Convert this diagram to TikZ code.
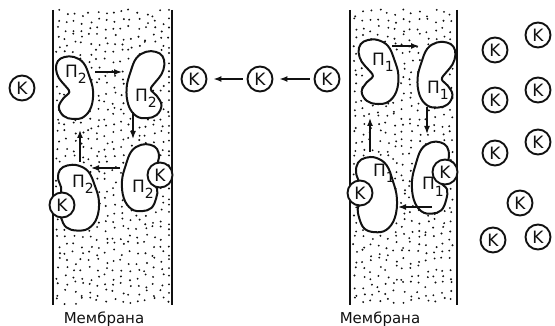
\documentclass[tikz,border=0pt]{standalone}
\usepackage{fontspec}
\setmainfont{DejaVu Sans}
\usepackage{tikz}
\usetikzlibrary{arrows.meta}
\definecolor{ink}{HTML}{111111}
\tikzset{
  >=Latex,
  every node/.style={text=ink},
  ion/.style={draw=ink,circle,line width=1.9pt,fill=white,minimum size=25pt,inner sep=0pt,font=\fontsize{17}{17}\selectfont},
  carrier/.style={draw=ink,line width=2pt,fill=white},
  wall/.style={draw=ink,line width=1.7pt},
  grain/.style={fill=ink},
  cyclearr/.style={-{Latex[length=8pt,width=6pt]},line width=1.5pt,draw=ink},
  plabel/.style={inner sep=0pt,anchor=base west,font=\fontsize{17}{17}\selectfont},
  caption/.style={inner sep=0pt,font=\fontsize{15}{15}\selectfont},
  % kidney-shaped carrier, notch depth as argument
  pics/bean/.style={code={
    \draw[carrier] plot[smooth cycle,tension=0.65] coordinates {
      (-11,-31) (-1,-31) (9,-25) (15,-12) (19,3) (17,19) (9,29) (-2,31)
      (-12,28) (-17,19) (#1-6,10) (#1,4) (#1-5,-3) (-17,-10) (-20,-19) (-18,-27)};
  }},
  pics/bean/.default=-6
}
\newcommand{\carrier}[1]{П\raisebox{-6pt}{\fontsize{14}{14}\selectfont #1}}

\begin{document}
\begin{tikzpicture}[x=1pt,y=-1pt]
  \useasboundingbox (0,0) rectangle (555,326);

  % stippled membranes (jittered grid)
  \pgfmathsetseed{4711}
  \foreach \xa/\xb in {56/169,353/454}{
    \foreach \gy in {13,21,...,301}{
      \foreach \gx in {\xa,...,\xb}{
        \pgfmathparse{mod(\gx-\xa,8)==0}
        \ifnum\pgfmathresult=1
          \pgfmathsetmacro{\dx}{min(\xb,\gx+4*rnd)}
          \pgfmathsetmacro{\dy}{\gy+3.5*rand}
          \fill[grain] (\dx,\dy) circle[radius=1.05pt];
        \fi
      }
    }
  }
  \foreach \xw in {53,172,350,457}
    \draw[wall] (\xw,10) -- (\xw,305);

  % carriers P2 in the left membrane
  \pic[xscale=0.95] at (75,88) {bean};
  \pic[xscale=-0.97,yscale=1.07] at (145,85) {bean};
  \pic[xscale=-0.95,yscale=1.07] at (140,178) {bean=-12};
  \pic[xscale=1.05,yscale=1.05] at (79,198) {bean=-12};
  \node[plabel] (p2a) at (65,78) {\carrier{2}};
  \node[plabel] (p2b) at (135,102) {\carrier{2}};
  \node[plabel] (p2c) at (132,193) {\carrier{2}};
  \node[plabel] (p2d) at (72,188) {\carrier{2}};
  \node[ion] (kb2c) at (160,175) {K};
  \node[ion] (kb2d) at (62,205) {K};

  % carriers P1 in the right membrane
  \pic[xscale=1.02,yscale=1.03] at (379,72) {bean};
  \pic[xscale=-0.97,yscale=1.05] at (436,75) {bean};
  \pic[xscale=-0.95,yscale=1.15] at (430,178) {bean=-12};
  \pic[xscale=1.05,yscale=1.2] at (377,195) {bean=-12};
  \node[plabel] (p1a) at (372,66) {\carrier{1}};
  \node[plabel] (p1b) at (427,94) {\carrier{1}};
  \node[plabel] (p1c) at (422,190) {\carrier{1}};
  \node[plabel] (p1d) at (373,177) {\carrier{1}};
  \node[ion] (kb1c) at (445,172) {K};
  \node[ion] (kb1d) at (360,193) {K};

  % carrier cycles
  \foreach \n/\p/\q in {l1/{95,72}/{122,72},l2/{133,112}/{133,139},
                        l3/{120,168}/{91,168},l4/{80,162}/{80,130},
                        r1/{392,46}/{419,46},r2/{427,107}/{427,134},
                        r3/{432,207}/{398,207},r4/{370,152}/{370,118}}{
    \coordinate (\n s) at (\p);
    \coordinate (\n e) at (\q);
    \draw[cyclearr] (\n s) -- (\n e);
  }

  % free ions
  \node[ion] (kleft) at (22,88) {K};
  \node[ion] (kout) at (194,79) {K};
  \node[ion] (kmid) at (260,79) {K};
  \node[ion] (kin) at (327,79) {K};
  \draw[cyclearr,shorten <=4pt,shorten >=6pt] (kin) -- (kmid);
  \draw[cyclearr,shorten <=4pt,shorten >=6pt] (kmid) -- (kout);
  \foreach \n/\p in {1/{495,50},2/{538,35},3/{495,100},4/{538,90},5/{495,153},
                     6/{538,142},7/{520,203},8/{493,240},9/{538,237}}
    \node[ion] (kr\n) at (\p) {K};

  \node[caption] (capl) at (104,319) {Мембрана};
  \node[caption] (capr) at (380,319) {Мембрана};
\end{tikzpicture}
\end{document}
